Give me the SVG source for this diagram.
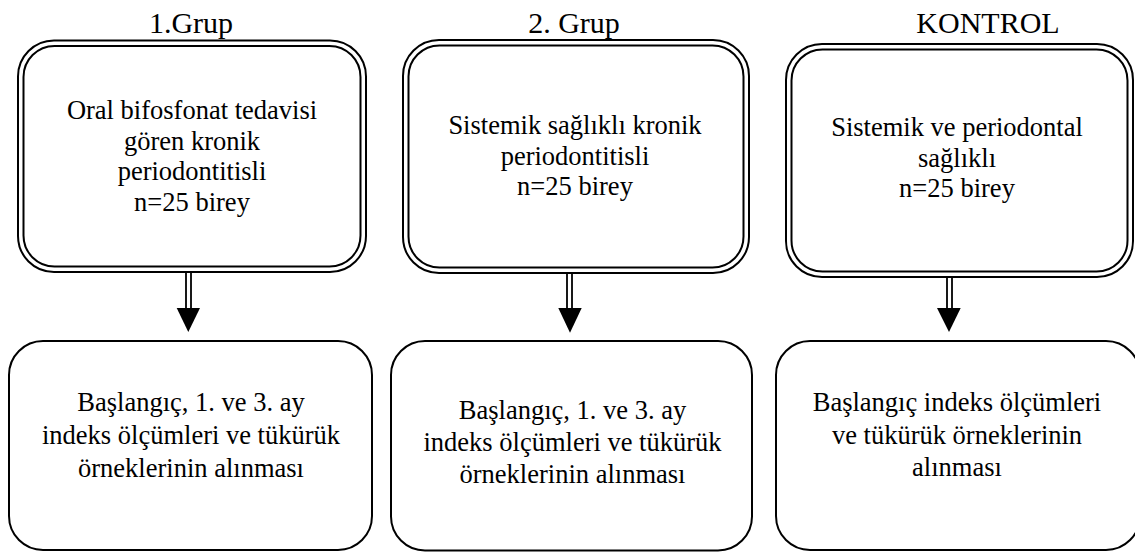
<svg xmlns="http://www.w3.org/2000/svg" width="1135" height="554" viewBox="0 0 1135 554">
<style>
text{font-family:"Liberation Serif","Times New Roman",serif;fill:#000;text-anchor:middle}
.t{font-size:30px}
.b{font-size:26.5px}
.dbl{fill:none;stroke:#000;stroke-width:2}
.sgl{fill:#fff;stroke:#000;stroke-width:2}
.shaft{fill:#fff;stroke:#000;stroke-width:1.8}
.head{fill:#000}
</style>
<rect width="1135" height="554" fill="#fff"/>
<g id="titles">
<text class="t" x="191" y="33">1.Grup</text>
<text class="t" x="574" y="33">2. Grup</text>
<text class="t" x="988" y="33">KONTROL</text>
</g>
<g id="connectors">
<rect class="shaft" x="186" y="272" width="5" height="37"/>
<polygon class="head" points="176.7,308 200,308 188.3,332"/>
<rect class="shaft" x="567" y="273" width="5" height="36"/>
<polygon class="head" points="558.3,308 581.7,308 570,332.7"/>
<rect class="shaft" x="947" y="277" width="5" height="32"/>
<polygon class="head" points="937,308 960.7,308 949,332"/>
</g>
<g id="group1">
<rect class="dbl" x="18" y="40.5" width="348" height="231.5" rx="36"/>
<rect class="dbl" x="23.5" y="46" width="337" height="220.5" rx="31"/>
<text class="b" x="192" y="119">Oral bifosfonat tedavisi</text>
<text class="b" x="192" y="149.5">gören kronik</text>
<text class="b" x="192" y="180">periodontitisli</text>
<text class="b" x="192" y="210.5">n=25 birey</text>
</g>
<g id="group2">
<rect class="dbl" x="403" y="40" width="346" height="233" rx="36"/>
<rect class="dbl" x="408.5" y="45.5" width="335" height="222" rx="31"/>
<text class="b" x="575" y="133.5">Sistemik sağlıklı kronik</text>
<text class="b" x="575" y="164.5">periodontitisli</text>
<text class="b" x="575" y="195">n=25 birey</text>
</g>
<g id="kontrol">
<rect class="dbl" x="786" y="44" width="347" height="233" rx="36"/>
<rect class="dbl" x="791.5" y="49.5" width="336" height="222" rx="31"/>
<text class="b" x="957" y="136">Sistemik ve periodontal</text>
<text class="b" x="957" y="166.5">sağlıklı</text>
<text class="b" x="957" y="197">n=25 birey</text>
</g>
<g id="result1">
<rect class="sgl" x="9" y="341" width="363" height="209" rx="34"/>
<text class="b" x="191" y="410.5">Başlangıç, 1. ve 3. ay</text>
<text class="b" x="191" y="443.5">indeks ölçümleri ve tükürük</text>
<text class="b" x="191" y="476.5">örneklerinin alınması</text>
</g>
<g id="result2">
<rect class="sgl" x="391" y="341" width="361" height="209.5" rx="34"/>
<text class="b" x="572.5" y="419">Başlangıç, 1. ve 3. ay</text>
<text class="b" x="572.5" y="451">indeks ölçümleri ve tükürük</text>
<text class="b" x="572.5" y="483">örneklerinin alınması</text>
</g>
<g id="result3">
<rect class="sgl" x="776" y="341" width="364" height="209" rx="34"/>
<text class="b" x="957" y="410.5">Başlangıç indeks ölçümleri</text>
<text class="b" x="957" y="443.5">ve tükürük örneklerinin</text>
<text class="b" x="957" y="476">alınması</text>
</g>
</svg>
